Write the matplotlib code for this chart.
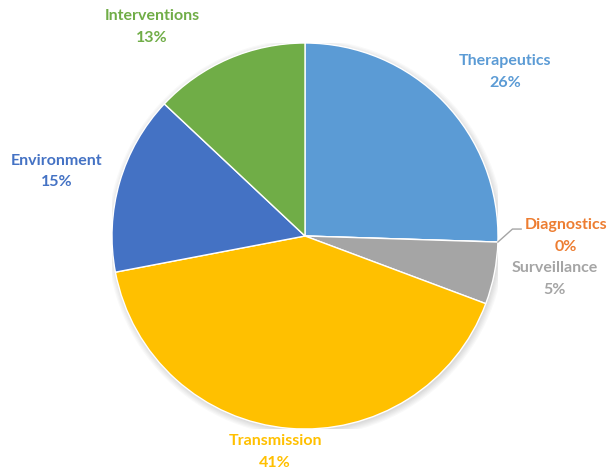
import matplotlib
matplotlib.use("Agg")
import matplotlib.pyplot as plt
from matplotlib.patches import Circle
import numpy as np

categories = ["Therapeutics", "Diagnostics", "Surveillance", "Transmission", "Environment", "Interventions"]
values = [25.5, 0, 5.2, 41.3, 15.0, 13.0]
pct_labels = ["26%", "0%", "5%", "41%", "15%", "13%"]
colors = ["#5B9BD5", "#ED7D31", "#A5A5A5", "#FFC000", "#4472C4", "#70AD47"]

# label positions (in pie-radius units), layout only
label_pos = [(1.036, 0.85), (1.352, 0.0), (1.295, -0.223), (-0.155, -1.119), (-1.285, 0.332), (-0.793, 1.083)]

plt.rcParams['font.family'] = ['Lato', 'DejaVu Sans']

fig = plt.figure(figsize=(6.07, 4.72), dpi=100)
ax = fig.add_axes([0.1845, 0.0911, 386/607, 386/472])

# soft shadow
for r in np.linspace(1.03, 1.0, 6):
    ax.add_patch(Circle((0.006, -0.01), r, color="black", alpha=0.025, lw=0, zorder=0))

wedges, _ = ax.pie(values, colors=colors, startangle=90, counterclock=False,
                   radius=1, wedgeprops=dict(edgecolor="white", linewidth=1.0, zorder=1))
ax.set_xlim(-1, 1)
ax.set_ylim(-1, 1)
ax.set_aspect('equal')
ax.axis('off')

for (x, y), name, pct, c in zip(label_pos, categories, pct_labels, colors):
    ax.text(x, y, f"{name}\n{pct}", ha="center", va="center", color=c,
            fontsize=11.5, fontweight="bold", linespacing=1.65, clip_on=False)

# leader line for Diagnostics
w = wedges[1]
ang = np.deg2rad(w.theta1)
x0, y0 = np.cos(ang), np.sin(ang)
ax.plot([x0, 1.075, 1.12], [y0, 0.036, 0.036], color="#A5A5A5", lw=1, clip_on=False)

fig.savefig("out.png", dpi=100)
